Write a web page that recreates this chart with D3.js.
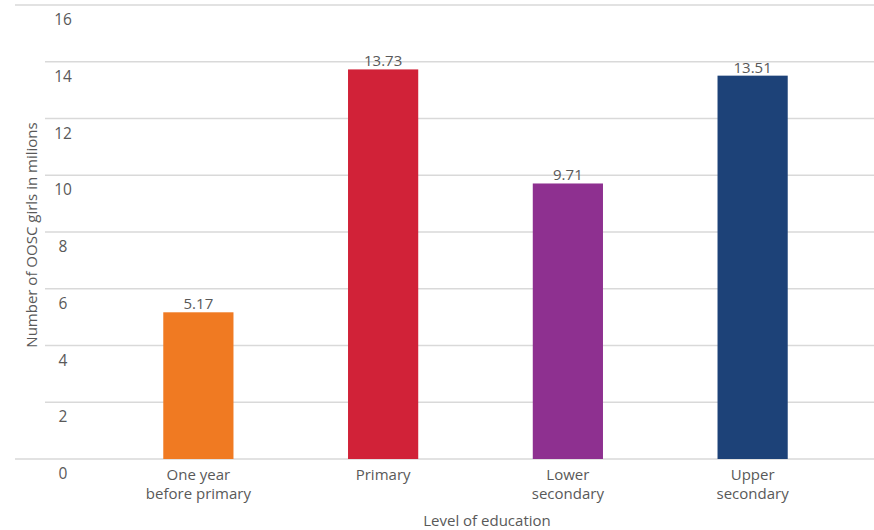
<!DOCTYPE html>
<html>
<head>
<meta charset="utf-8">
<script src="https://cdn.jsdelivr.net/npm/d3@7"></script>
<style>
  html, body { margin: 0; padding: 0; background: #fff; }
  svg { display: block; }
  text { font-family: "Open Sans", "Noto Sans", sans-serif; fill: #595959; }
</style>
</head>
<body>
<svg id="chart" width="874" height="530"></svg>
<script>
const categories = [["One year", "before primary"], ["Primary"], ["Lower", "secondary"], ["Upper", "secondary"]];
const categoryKeys = ["One year before primary", "Primary", "Lower secondary", "Upper secondary"];
const values = [5.17, 13.73, 9.71, 13.51];
const valueLabels = ["5.17", "13.73", "9.71", "13.51"];
const colors = ["#F07A22", "#D12238", "#8E3090", "#1D4278"];
const yTicks = [0, 2, 4, 6, 8, 10, 12, 14, 16];
const yTitle = "Number of OOSC girls in milions";
const xTitle = "Level of education";

const svg = d3.select("#chart");
const W = 874;

const y = d3.scaleLinear().domain([0, 16]).range([459, 5]);
const x = d3.scaleBand().domain(categoryKeys).range([106, 845]).paddingInner(0.62).paddingOuter(0.31);

// gridlines
svg.append("g").selectAll("line").data(yTicks).join("line")
  .attr("x1", d => (d === 0 || d === 16) ? 15 : 45)
  .attr("x2", W)
  .attr("y1", d => y(d)).attr("y2", d => y(d))
  .attr("stroke", "#d9d9d9").attr("stroke-width", 1.5);

// y tick labels (offset below gridlines, as in the reference)
svg.append("g").selectAll("text").data(yTicks).join("text")
  .attr("x", 63).attr("y", d => y(d) + 16)
  .attr("text-anchor", "middle").attr("dominant-baseline", "middle")
  .attr("font-size", 15.5)
  .text(d => d);

// bars
svg.append("g").selectAll("rect").data(values).join("rect")
  .attr("x", (d, i) => x(categoryKeys[i]))
  .attr("width", x.bandwidth())
  .attr("y", d => y(d))
  .attr("height", d => y(0) - y(d))
  .attr("fill", (d, i) => colors[i]);

// value labels
svg.append("g").selectAll("text").data(values).join("text")
  .attr("x", (d, i) => x(categoryKeys[i]) + x.bandwidth() / 2)
  .attr("y", d => y(d) - 3)
  .attr("text-anchor", "middle")
  .attr("font-size", 15)
  .text((d, i) => valueLabels[i]);

// category labels
const cat = svg.append("g").selectAll("text").data(categories).join("text")
  .attr("x", (d, i) => x(categoryKeys[i]) + x.bandwidth() / 2)
  .attr("y", 480)
  .attr("text-anchor", "middle")
  .attr("font-size", 15);
cat.selectAll("tspan").data(d => d).join("tspan")
  .attr("x", function() { return d3.select(this.parentNode).attr("x"); })
  .attr("dy", (d, i) => i === 0 ? 0 : 19)
  .text(d => d);

// axis titles
svg.append("text")
  .attr("transform", "translate(37,235) rotate(-90)")
  .attr("text-anchor", "middle")
  .attr("font-size", 15)
  .text(yTitle);

svg.append("text")
  .attr("x", 487).attr("y", 526)
  .attr("text-anchor", "middle")
  .attr("font-size", 15)
  .text(xTitle);
</script>
</body>
</html>
